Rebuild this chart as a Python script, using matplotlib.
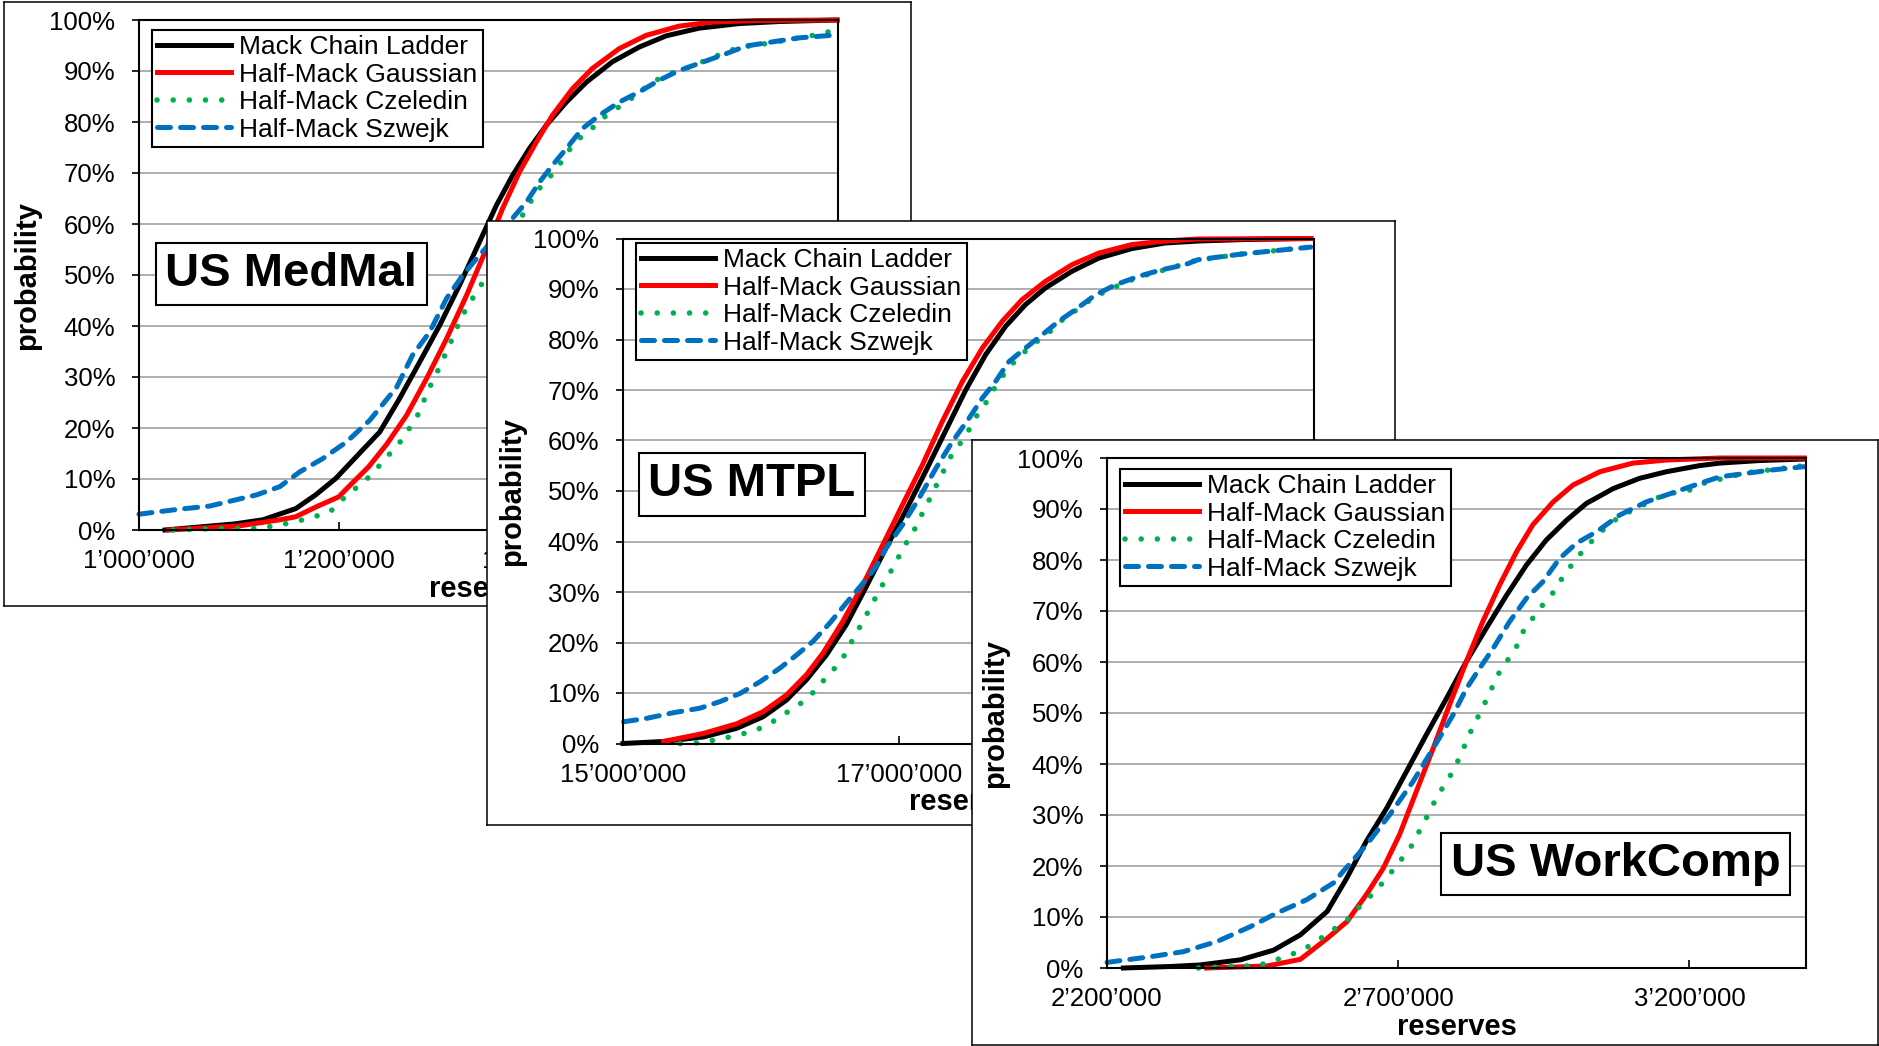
import numpy as np
import matplotlib
matplotlib.use('Agg')
import matplotlib.pyplot as plt
from matplotlib.ticker import FuncFormatter, MultipleLocator

plt.rcParams['font.family'] = ['Liberation Sans', 'DejaVu Sans']

labels = ['Mack Chain Ladder', 'Half-Mack Gaussian', 'Half-Mack Czeledin', 'Half-Mack Szwejk']

# ---- US MedMal (reserves in thousands) ----
medmal_mack_x = [1026, 1096, 1124, 1157, 1177, 1197, 1224, 1241, 1261, 1281, 1301, 1321, 1341, 1358, 1374,
                 1391, 1408, 1428, 1448, 1474, 1501, 1528, 1561, 1601, 1641, 1699]
medmal_mack_p = [0, .012, .02, .042, .069, .101, .157, .192, .258, .329, .401, .48, .565, .637, .695,
                 .748, .794, .839, .878, .918, .947, .969, .984, .993, .997, 1.0]
medmal_gauss_x = [1030, 1100, 1141, 1157, 1177, 1200, 1210, 1230, 1248, 1268, 1288, 1308, 1328, 1348, 1364,
                  1381, 1398, 1414, 1434, 1454, 1481, 1508, 1541, 1574, 1620, 1699]
medmal_gauss_p = [0, .008, .02, .026, .045, .065, .085, .124, .168, .225, .297, .375, .46, .552, .63,
                  .702, .761, .813, .865, .905, .944, .97, .988, .996, .999, 1.0]
medmal_czel_x = [1034, 1080, 1120, 1146, 1162, 1177, 1191, 1201, 1211, 1223, 1233, 1243, 1254, 1263, 1271,
                 1279, 1291, 1298, 1304, 1311, 1316, 1323, 1329, 1339, 1346, 1384, 1399, 1409, 1423, 1434,
                 1446, 1458, 1468, 1491, 1514, 1528, 1541, 1556, 1571, 1584, 1599, 1614, 1629, 1646, 1661,
                 1678, 1693]
medmal_czel_p = [0, .003, .003, .012, .019, .027, .035, .054, .075, .089, .11, .131, .156, .176, .2,
                 .225, .28, .307, .333, .362, .388, .415, .441, .467, .493, .617, .666, .686, .722, .754,
                 .777, .794, .813, .843, .878, .892, .901, .911, .924, .934, .945, .95, .954, .96, .965,
                 .971, .978]
medmal_szw_x = [1000, 1037, 1071, 1118, 1141, 1161, 1184, 1208, 1231, 1258, 1274, 1291, 1308, 1324, 1341,
                1374, 1388, 1401, 1414, 1428, 1444, 1461, 1481, 1501, 1521, 1541, 1561, 1584, 1608, 1634,
                1661, 1694]
medmal_szw_p = [.031, .04, .047, .069, .085, .114, .14, .173, .215, .28, .343, .388, .454, .499, .539,
                .611, .643, .682, .715, .748, .787, .813, .839, .859, .882, .901, .915, .931, .949, .957,
                .965, .97]

# ---- US MTPL ----
mtpl_mack_x = [15000, 15293, 15582, 15822, 16014, 16183, 16327, 16471, 16615, 16759, 16903, 17048, 17192,
               17336, 17480, 17624, 17768, 17912, 18056, 18248, 18441, 18681, 18921, 19161, 19500, 19977]
mtpl_mack_p = [0, .004, .013, .03, .053, .086, .126, .175, .235, .31, .387, .462, .54,
               .62, .7, .77, .826, .869, .902, .935, .961, .98, .991, .995, .998, 1.0]
mtpl_gauss_x = [15293, 15582, 15822, 16014, 16183, 16327, 16447, 16591, 16735, 16879, 17023, 17167, 17311,
                17456, 17600, 17744, 17888, 18056, 18248, 18441, 18681, 18921, 19161, 19977]
mtpl_gauss_p = [.004, .02, .039, .063, .096, .136, .179, .242, .314, .393, .473, .552, .638,
                .717, .783, .836, .879, .915, .948, .971, .988, .995, .999, 1.0]
mtpl_czel_x = [15414, 15529, 15644, 15755, 15865, 15966, 16062, 16147, 16235, 16327, 16399, 16471, 16538,
               16598, 16651, 16702, 16754, 16807, 16855, 16915, 16975, 17023, 17084, 17131, 17179, 17228,
               17276, 17324, 17372, 17432, 17492, 17545, 17605, 17660, 17720, 17780, 17845, 17924, 17996,
               18080, 18165, 18248, 18333, 18417, 18513, 18609, 18717, 18825, 18921, 19041, 19137, 19469,
               19977]
mtpl_czel_p = [0, .001, .006, .012, .019, .027, .039, .055, .07, .087, .108, .131, .151,
               .173, .2, .225, .251, .278, .304, .331, .357, .387, .41, .436, .463, .489,
               .516, .542, .568, .591, .615, .644, .664, .692, .717, .74, .76, .78, .796,
               .813, .836, .852, .869, .885, .898, .91, .922, .931, .938, .948, .956, .969,
               .983]
mtpl_szw_x = [15005, 15174, 15365, 15558, 15702, 15846, 15990, 16134, 16255, 16374, 16495, 16615, 16735,
              16831, 16903, 17023, 17143, 17264, 17384, 17504, 17600, 17696, 17792, 17912, 18032, 18152,
              18273, 18417, 18561, 18729, 18897, 19066, 19161, 19469, 19977]
mtpl_szw_p = [.043, .05, .061, .07, .083, .099, .122, .149, .175, .202, .238, .278, .317,
              .35, .387, .433, .486, .545, .598, .644, .684, .717, .756, .783, .809, .836,
              .859, .888, .908, .925, .938, .948, .958, .969, .983]

# ---- US WorkComp ----
wc_mack_x = [2228, 2310, 2360, 2429, 2486, 2532, 2578, 2611, 2645, 2680, 2714, 2748, 2783, 2817, 2851,
             2886, 2920, 2954, 2989, 3023, 3069, 3114, 3160, 3217, 3252, 3320, 3397]
wc_mack_p = [0, .003, .006, .016, .035, .065, .111, .175, .248, .313, .385, .457, .529, .601, .666,
             .731, .79, .839, .878, .911, .94, .96, .973, .985, .99, .995, .998]
wc_gauss_x = [2371, 2475, 2532, 2578, 2612, 2646, 2674, 2702, 2731, 2760, 2788, 2817, 2845, 2874, 2903,
              2931, 2966, 3000, 3046, 3103, 3160, 3252, 3397]
wc_gauss_p = [0, .004, .017, .058, .091, .145, .195, .261, .346, .431, .516, .601, .679, .751, .816,
              .869, .914, .947, .973, .99, .996, 1.0, 1.0]
wc_czel_x = [2357, 2410, 2460, 2486, 2510, 2536, 2556, 2576, 2598, 2617, 2635, 2653, 2670, 2686, 2700,
             2722, 2745, 2768, 2783, 2797, 2817, 2828, 2840, 2851, 2863, 2874, 2888, 2903, 2914, 2931,
             2948, 2963, 2977, 2991, 3006, 3023, 3040, 3057, 3080, 3103, 3126, 3149, 3177, 3200, 3223,
             3297, 3397]
wc_czel_p = [0, .003, .005, .014, .024, .035, .05, .065, .083, .099, .122, .142, .163, .185, .205,
             .238, .287, .339, .365, .392, .444, .473, .499, .525, .555, .581, .604, .63, .659, .686,
             .712, .731, .757, .78, .803, .826, .846, .865, .885, .898, .911, .924, .933, .937, .95,
             .971, .985]
wc_szw_x = [2200, 2274, 2331, 2389, 2446, 2492, 2543, 2589, 2605, 2645, 2685, 2725, 2760, 2794, 2817,
            2840, 2863, 2891, 2920, 2948, 2977, 3006, 3040, 3080, 3126, 3177, 3217, 3252, 3337, 3397]
wc_szw_p = [.011, .022, .032, .052, .081, .108, .134, .167, .189, .241, .3, .365, .431, .496, .548,
            .588, .627, .679, .725, .757, .803, .833, .855, .888, .914, .934, .95, .963, .976, .983]

medmal_ticks = [1000000, 1200000, 1400000, 1600000]
mtpl_ticks = [15000000, 17000000, 19000000]
wc_ticks = [2200000, 2700000, 3200000]

W, H = 1879, 1046
fig = plt.figure(figsize=(W / 100, H / 100), dpi=100)


def rect(l, t, r, b):
    return [l / W, 1 - b / H, (r - l) / W, (b - t) / H]


def fmt(v, pos):
    return f'{int(round(v)):,}'.replace(',', '\u2019')


styles = [
    dict(color='#000000', lw=3.6, ls='-'),
    dict(color='#FF0000', lw=3.6, ls='-'),
    dict(color='#00B050', lw=4.0, ls=(0, (0.01, 2.9)), dash_capstyle='round'),
    dict(color='#0070C0', lw=3.6, ls=(0, (2.6, 2.0)), dash_capstyle='round'),
]


def panel(frame, box, xlim, xticks, series, title, title_xy, leg_xy):
    fr = fig.add_axes(rect(*frame))
    fr.set_xticks([])
    fr.set_yticks([])
    fr.set_facecolor('white')
    for s in fr.spines.values():
        s.set_linewidth(1.1)
        s.set_color('black')

    ax = fig.add_axes(rect(*box))
    lines = []
    for (xs, ps), lab, st in zip(series, labels, styles):
        ln, = ax.plot(np.array(xs) * 1000, ps, label=lab, clip_on=False, **st)
        lines.append(ln)
    ax.set_xlim(xlim[0], xlim[1])
    ax.set_ylim(0, 1)
    ax.set_xticks(xticks)
    ax.xaxis.set_major_formatter(FuncFormatter(fmt))
    ax.yaxis.set_major_locator(MultipleLocator(0.1))
    ax.yaxis.set_major_formatter(FuncFormatter(lambda v, p: f'{int(round(v * 100))}%'))
    ax.tick_params(axis='x', direction='in', length=6, width=1.2, labelsize=18.5, pad=14)
    ax.tick_params(axis='y', direction='out', length=5, width=1.2, labelsize=18.5, pad=12)
    ax.yaxis.grid(True, color='#999999', lw=1.1)
    ax.set_axisbelow(True)
    for s in ax.spines.values():
        s.set_linewidth(1.5)
        s.set_color('black')

    ax.set_ylabel('probability', fontsize=21, fontweight='bold', va='center')
    ax.yaxis.set_label_coords(-0.16, 0.5)
    ax.set_xlabel('reserves', fontsize=21, fontweight='bold', va='center')
    ax.xaxis.set_label_coords(0.5, -0.116)

    ax.text(title_xy[0], title_xy[1], title, transform=ax.transAxes, ha='center', va='center',
            fontsize=34, fontweight='bold', zorder=10,
            bbox=dict(boxstyle='square,pad=0.2', fc='white', ec='black', lw=1.5))

    bw = box[2] - box[0]
    bh = box[3] - box[1]
    leg = ax.legend(handles=lines, loc='upper left',
                    bbox_to_anchor=((leg_xy[0] - box[0]) / bw, 1 - (leg_xy[1] - box[1]) / bh),
                    borderaxespad=0, fontsize=19, frameon=True, fancybox=False, framealpha=1,
                    edgecolor='black', borderpad=0.2, labelspacing=0.13, handlelength=2.8,
                    handletextpad=0.3)
    leg.get_frame().set_linewidth(1.5)
    return ax


panel((4, 2, 911, 606), (139, 20, 838, 530), (1000000, 1700000), medmal_ticks,
      [(medmal_mack_x, medmal_mack_p), (medmal_gauss_x, medmal_gauss_p),
       (medmal_czel_x, medmal_czel_p), (medmal_szw_x, medmal_szw_p)],
      'US MedMal', (0.218, 0.502), (152, 30))

panel((487, 221, 1395, 825), (623, 238.5, 1314, 743.5), (15000000, 20000000), mtpl_ticks,
      [(mtpl_mack_x, mtpl_mack_p), (mtpl_gauss_x, mtpl_gauss_p),
       (mtpl_czel_x, mtpl_czel_p), (mtpl_szw_x, mtpl_szw_p)],
      'US MTPL', (0.1867, 0.513), (636, 243))

panel((972, 440, 1878, 1045), (1107, 458, 1806, 968), (2200000, 3400000), wc_ticks,
      [(wc_mack_x, wc_mack_p), (wc_gauss_x, wc_gauss_p),
       (wc_czel_x, wc_czel_p), (wc_szw_x, wc_szw_p)],
      'US WorkComp', (0.7275, 0.204), (1120, 469))

fig.savefig('out.png', dpi=100)
